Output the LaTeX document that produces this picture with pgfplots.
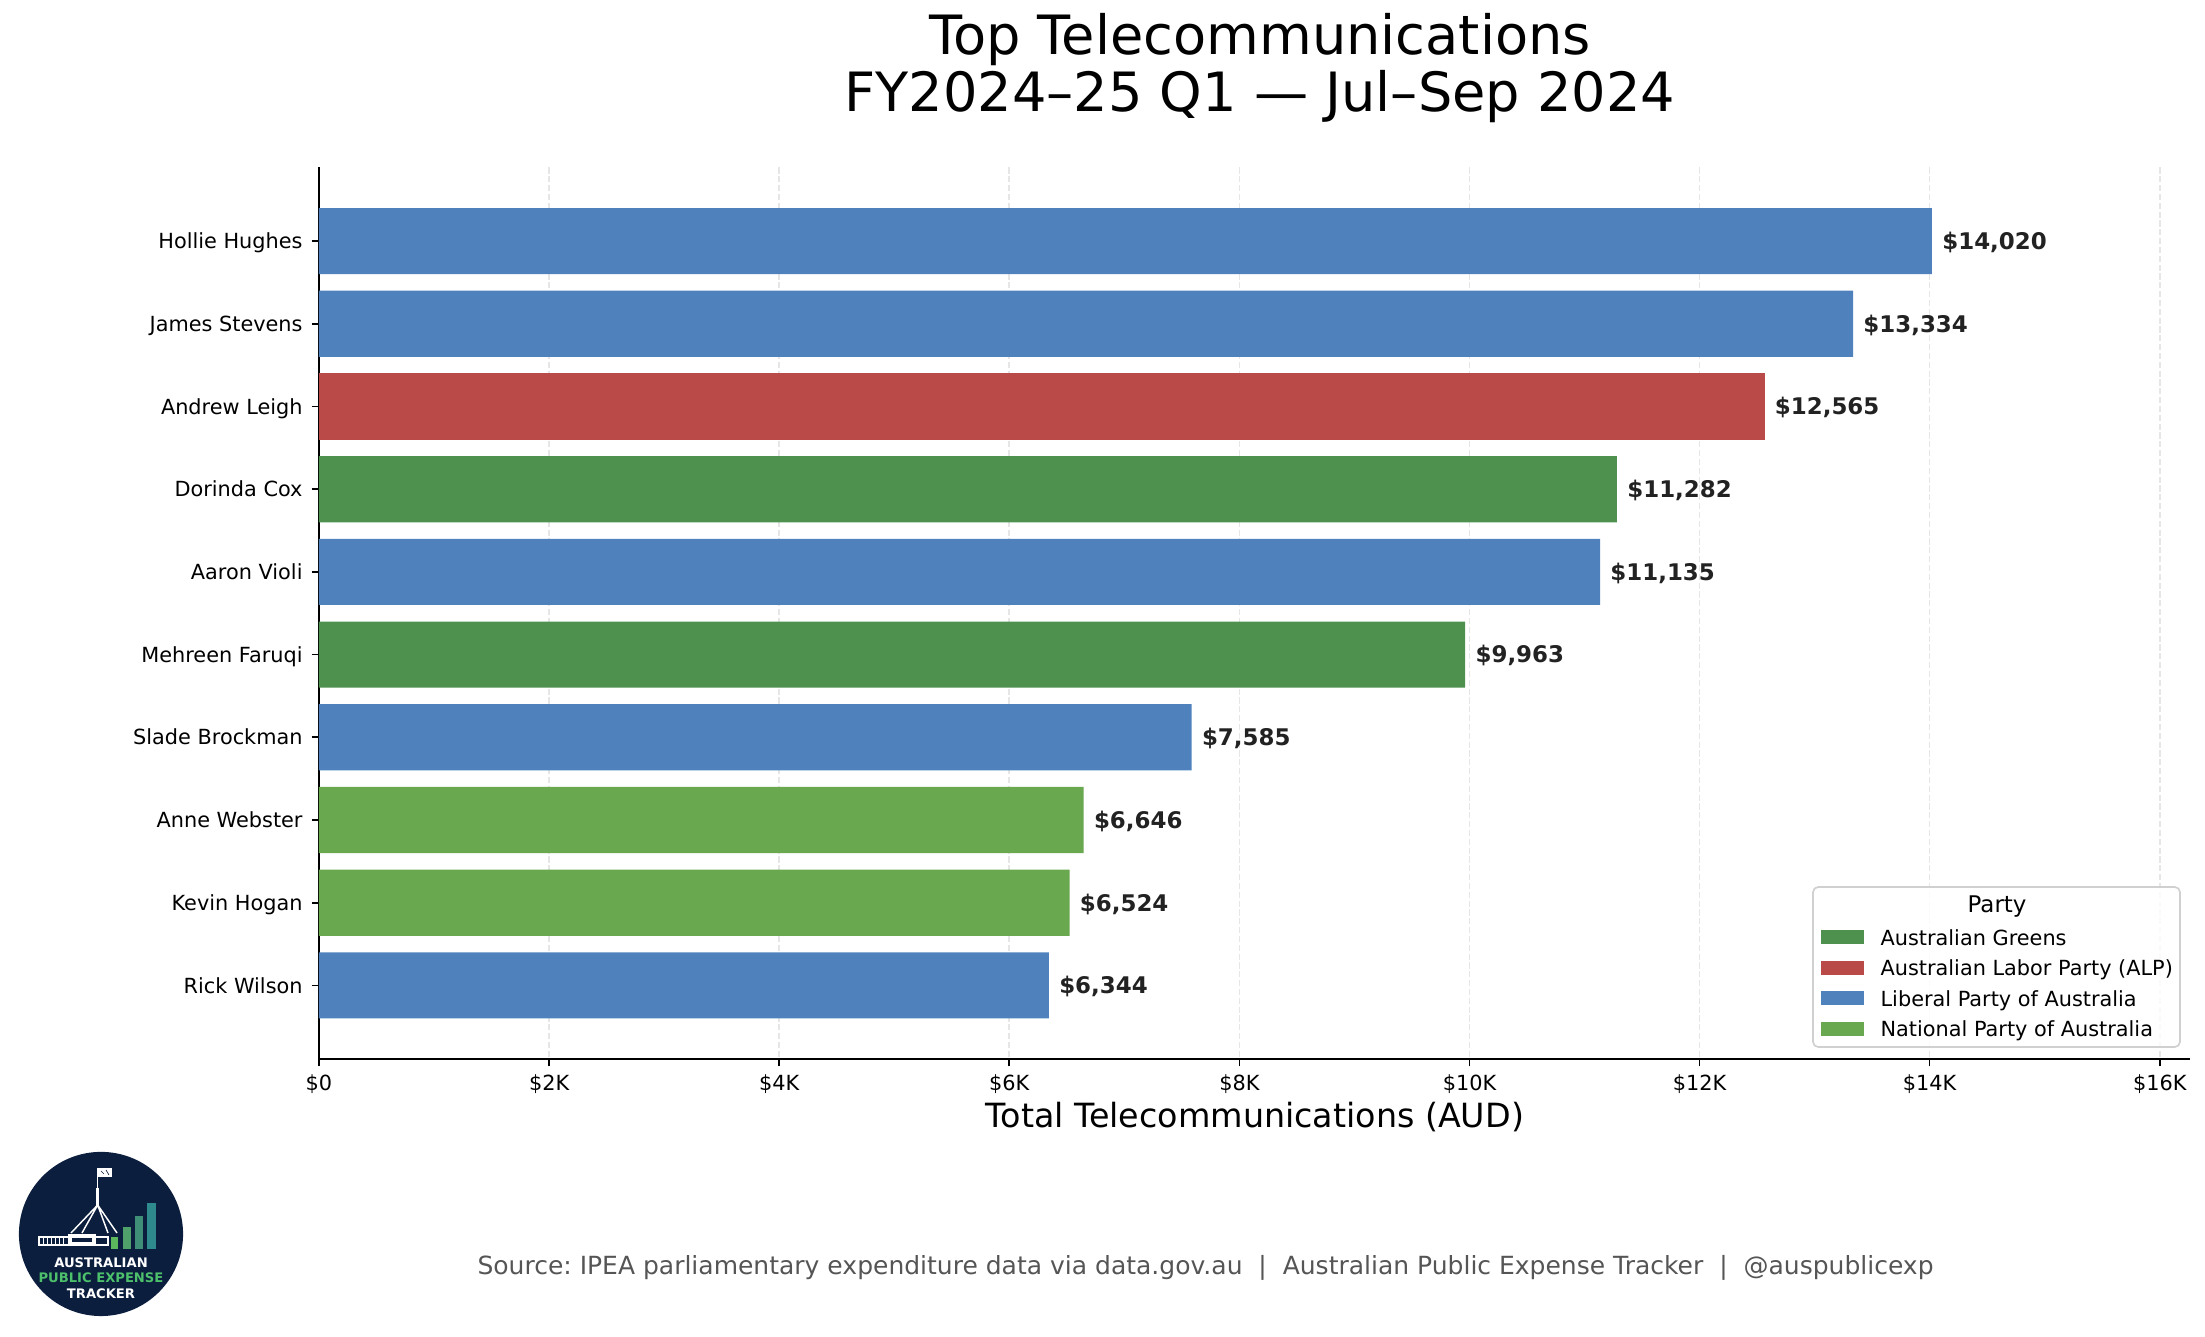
\documentclass[border=0pt]{standalone}
\usepackage{pgfplots}
\pgfplotsset{compat=1.18}
\usepackage{fontspec}
\setmainfont{DejaVu Sans}
\frenchspacing
\definecolor{greens}{HTML}{4E914E}
\definecolor{alp}{HTML}{B94A48}
\definecolor{liberal}{HTML}{4F81BD}
\definecolor{national}{HTML}{6AA84F}
\definecolor{navy}{HTML}{0B1E3D}
\definecolor{labelgray}{HTML}{222222}
\definecolor{footgray}{HTML}{555555}
\definecolor{gridgray}{HTML}{E6E6E6}
\definecolor{legedge}{HTML}{D0D0D0}
\definecolor{logogreen}{HTML}{4CC06A}
\definecolor{lb1}{HTML}{5CB85C}
\definecolor{lb2}{HTML}{4FA06A}
\definecolor{lb3}{HTML}{3F8E78}
\definecolor{lb4}{HTML}{2E8A8C}
\begin{document}
\begin{tikzpicture}
\useasboundingbox (0,0) rectangle (1058.4pt,641.76pt);
\begin{axis}[
  at={(153.12pt,133.44pt)}, anchor=south west,
  scale only axis, width=898.08pt, height=427.92pt,
  xmin=0, xmax=16263, ymin=-0.89, ymax=9.89, y dir=reverse,
  axis x line*=bottom, axis y line*=left,
  axis line style={-, line width=0.8pt, black},
  tick align=outside, major tick length=3.5pt,
  tick style={line width=0.8pt, black},
  scaled x ticks=false,
  xtick={0,2000,4000,6000,8000,10000,12000,14000,16000},
  xticklabels={\$0,\$2K,\$4K,\$6K,\$8K,\$10K,\$12K,\$14K,\$16K},
  ytick={0,1,2,3,4,5,6,7,8,9},
  yticklabels={Hollie Hughes,James Stevens,Andrew Leigh,Dorinda Cox,Aaron Violi,Mehreen Faruqi,Slade Brockman,Anne Webster,Kevin Hogan,Rick Wilson},
  xticklabel style={font=\fontsize{10}{12}\selectfont, anchor=base, inner sep=0pt, yshift=-11.4pt},
  yticklabel style={font=\fontsize{10}{12}\selectfont, anchor=base east, inner sep=0pt, xshift=-4.2pt, yshift=-3.65pt},
  xmajorgrids=true,
  major x grid style={dash pattern=on 2.96pt off 1.28pt, color=gridgray, line width=0.8pt},
  clip=false,
  point meta=x,
  nodes near coords={\$\pgfmathprintnumber[assume math mode=true,fixed,precision=0,1000 sep={,}]{\pgfplotspointmeta}},
  nodes near coords style={anchor=base west, inner sep=0pt, xshift=4.8pt, yshift=-4pt, font=\fontsize{11}{13}\selectfont\bfseries, text=labelgray},
  legend style={at={(axis cs:13056,8.323)}, anchor=north west, draw=none, fill=none,
    inner sep=0pt, row sep=7.34pt, font=\fontsize{10}{12}\selectfont,
    nodes={inner sep=0pt, text height=7.3pt, text depth=0pt},
    /tikz/every odd column/.append style={column sep=8.2pt}},
  legend cell align=left,
  legend image code/.code={\fill[#1] (0pt,-3.35pt) rectangle (20.2pt,3.35pt);},
]
\addplot[xbar, bar shift=0pt, bar width=0.8, fill=greens, draw=none] coordinates {(11282,3) (9963,5)};
\addlegendentry{Australian Greens}
\addplot[xbar, bar shift=0pt, bar width=0.8, fill=alp, draw=none] coordinates {(12565,2)};
\addlegendentry{Australian Labor Party (ALP)}
\addplot[xbar, bar shift=0pt, bar width=0.8, fill=liberal, draw=none] coordinates {(14020,0) (13334,1) (11135,4) (7585,6) (6344,9)};
\addlegendentry{Liberal Party of Australia}
\addplot[xbar, bar shift=0pt, bar width=0.8, fill=national, draw=none] coordinates {(6646,7) (6524,8)};
\addlegendentry{National Party of Australia}
\draw[legedge, fill=white, fill opacity=0.8, rounded corners=2.5pt, line width=0.8pt] (axis cs:12986,7.810) rectangle (axis cs:16176,9.745);
\node[anchor=base, font=\fontsize{11}{13}\selectfont, inner sep=0pt] at (axis cs:14586,8.124) {Party};
\end{axis}
\begin{scope}[x=0.48pt, y=-0.48pt, yshift=641.76pt]
  % title
  \node[anchor=base, font=\fontsize{26}{31}\selectfont, inner sep=0pt] at (1260,55) {Top Telecommunications};
  \node[anchor=base, font=\fontsize{26}{31}\selectfont, inner sep=0pt] at (1260,112) {FY2024–25 Q1 — Jul–Sep 2024};
  % x label
  \node[anchor=base, font=\fontsize{16}{19}\selectfont, inner sep=0pt] at (1255,1128) {Total Telecommunications (AUD)};
  % footer
  \node[anchor=base, font=\fontsize{12}{14}\selectfont, text=footgray, inner sep=0pt] at (1205.5,1275) {Source: IPEA parliamentary expenditure data via data.gov.au\ \ |\ \ Australian Public Expense Tracker\ \ |\ \ @auspublicexp};
  % logo
  \fill[navy] (101,1234) circle [radius=39.4pt];
  \fill[white] (96.5,1188) rectangle (99,1207);
  \draw[white, line width=0.6pt] (97.7,1168) -- (97.7,1188);
  \fill[white] (98,1168) rectangle (112,1177);
  \draw[navy, line width=0.3pt] (101,1171) -- (104,1174) (106,1170) -- (109,1175);
  \draw[white, line width=0.7pt] (97.7,1205) -- (71,1233) (97.7,1205) -- (82,1233) (97.7,1205) -- (108,1233) (97.7,1205) -- (117,1233);
  \draw[white, line width=0.6pt] (39,1237) rectangle (108,1245);
  \fill[white] (68,1234) rectangle (96,1245);
  \foreach \xx in {43,47,51,55,59,63} {\draw[white, line width=0.4pt] (\xx,1237) -- (\xx,1245);}
  \fill[navy] (72,1238) rectangle (92,1242);
  \fill[lb1] (110.7,1237.3) rectangle (118.3,1249);
  \fill[lb2] (122.7,1226.7) rectangle (130.7,1249);
  \fill[lb3] (135,1216) rectangle (143.3,1249);
  \fill[lb4] (147,1202.7) rectangle (155.7,1249);
  \node[anchor=base, font=\fontsize{6.3}{7}\selectfont\bfseries, text=white, inner sep=0pt] at (101,1267.7) {AUSTRALIAN};
  \node[anchor=base, font=\fontsize{6.3}{7}\selectfont\bfseries, text=logogreen, inner sep=0pt] at (101,1283) {PUBLIC EXPENSE};
  \node[anchor=base, font=\fontsize{6.3}{7}\selectfont\bfseries, text=white, inner sep=0pt] at (101,1299) {TRACKER};
\end{scope}
\end{tikzpicture}
\end{document}
